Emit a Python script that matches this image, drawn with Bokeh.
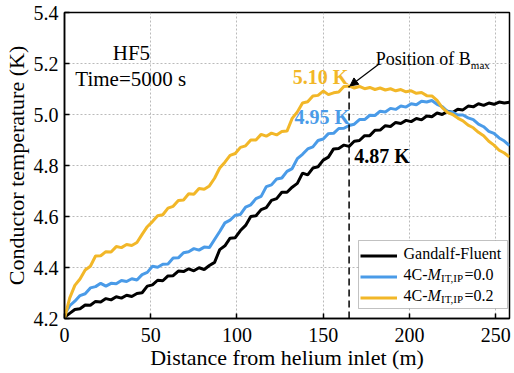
from bokeh.plotting import figure
from bokeh.models import (Range1d, FixedTicker, Legend, LegendItem, Label, Arrow, NormalHead,
                          BoxAnnotation)
from bokeh.embed import file_html
from bokeh.resources import INLINE

# ---------------- data ----------------
distance = list(range(0, 259, 3))  # m, sampling positions along the conductor

gandalf_fluent = [
    4.205, 4.220, 4.235, 4.238, 4.253, 4.252, 4.267, 4.265, 4.278, 4.273,
    4.285, 4.280, 4.291, 4.286, 4.298, 4.301, 4.327, 4.332, 4.350, 4.348,
    4.367, 4.368, 4.386, 4.384, 4.395, 4.387, 4.399, 4.392, 4.408, 4.420,
    4.470, 4.485, 4.515, 4.517, 4.545, 4.565, 4.600, 4.603, 4.627, 4.635,
    4.663, 4.670, 4.695, 4.695, 4.715, 4.730, 4.770, 4.763, 4.790, 4.795,
    4.821, 4.833, 4.865, 4.867, 4.880, 4.875, 4.895, 4.898, 4.917, 4.917,
    4.938, 4.939, 4.956, 4.953, 4.969, 4.965, 4.977, 4.972, 4.984, 4.979,
    4.994, 4.991, 5.006, 5.000, 5.013, 5.008, 5.021, 5.018, 5.033, 5.030,
    5.042, 5.036, 5.045, 5.040, 5.049, 5.045, 5.048]

fourc_m00 = [
    4.215, 4.250, 4.268, 4.290, 4.297, 4.320, 4.325, 4.338, 4.327, 4.338,
    4.336, 4.349, 4.345, 4.356, 4.351, 4.372, 4.381, 4.405, 4.401, 4.413,
    4.414, 4.437, 4.438, 4.458, 4.462, 4.474, 4.468, 4.480, 4.478, 4.510,
    4.541, 4.575, 4.586, 4.605, 4.608, 4.637, 4.646, 4.670, 4.679, 4.717,
    4.724, 4.747, 4.751, 4.777, 4.788, 4.827, 4.844, 4.865, 4.873, 4.898,
    4.904, 4.925, 4.926, 4.945, 4.946, 4.957, 4.962, 4.980, 4.980, 4.997,
    4.996, 5.013, 5.010, 5.024, 5.020, 5.033, 5.029, 5.042, 5.038, 5.052,
    5.049, 5.055, 5.040, 5.031, 5.012, 5.009, 4.998, 4.998, 4.987, 4.980,
    4.962, 4.952, 4.934, 4.926, 4.908, 4.896, 4.878]

fourc_m02 = [
    4.200, 4.280, 4.330, 4.355, 4.390, 4.405, 4.445, 4.446, 4.462, 4.461,
    4.482, 4.478, 4.490, 4.486, 4.498, 4.530, 4.560, 4.580, 4.603, 4.607,
    4.633, 4.640, 4.663, 4.665, 4.689, 4.687, 4.710, 4.707, 4.720, 4.750,
    4.790, 4.813, 4.840, 4.847, 4.871, 4.877, 4.900, 4.900, 4.922, 4.915,
    4.927, 4.920, 4.933, 4.935, 4.985, 5.010, 5.045, 5.050, 5.073, 5.075,
    5.092, 5.078, 5.085, 5.088, 5.110, 5.112, 5.104, 5.110, 5.101, 5.106,
    5.098, 5.104, 5.096, 5.101, 5.093, 5.098, 5.089, 5.093, 5.083, 5.086,
    5.074, 5.073, 5.055, 5.027, 5.008, 5.000, 4.986, 4.975, 4.958, 4.948,
    4.930, 4.917, 4.895, 4.880, 4.860, 4.849, 4.833]

series_names = ["Gandalf-Fluent", "4C-", "4C-"]
series_params = [None, "0.0", "0.2"]

x_ticks = [0, 50, 100, 150, 200, 250]
y_ticks = [4.2, 4.4, 4.6, 4.8, 5.0, 5.2, 5.4]
y_tick_labels = ["4.2", "4.4", "4.6", "4.8", "5.0", "5.2", "5.4"]

bmax_position = 165          # m
bmax_peak = 5.112            # top of the marker line (4C, M=0.2 curve)
temp_gandalf_bmax = 4.87
temp_m00_bmax = 4.95
temp_m02_bmax = 5.10

BLACK = "#000000"
BLUE = "#4A9BE8"
YELLOW = "#F2B728"
FONT = "Times"

X0, X1, Y0, Y1 = 0, 258, 4.2, 5.4
FRAME_W, FRAME_H = 448, 306   # plot area in px

# ---------------- figure ----------------
p = figure(width=514, height=373, x_range=Range1d(X0, X1), y_range=Range1d(Y0, Y1),
           output_backend="svg", toolbar_location=None,
           min_border_left=61, min_border_right=5, min_border_top=12, min_border_bottom=55)
p.background_fill_color = "white"
p.border_fill_color = "white"
p.outline_line_color = "black"
p.outline_line_width = 1.5

for ax in (p.xaxis[0], p.yaxis[0]):
    ax.axis_line_width = 1.5
    ax.axis_line_color = "black"
    ax.major_tick_in = 5
    ax.major_tick_out = 0
    ax.major_tick_line_width = 1.5
    ax.minor_tick_line_color = None
    ax.major_label_text_font = FONT
    ax.major_label_text_font_size = "20px"
    ax.major_label_text_color = "black"
    ax.axis_label_text_font = FONT
    ax.axis_label_text_font_size = "22px"
    ax.axis_label_text_font_style = "normal"
    ax.axis_label_text_color = "black"

p.xaxis.major_label_standoff = 9
p.xaxis.axis_label_standoff = 0
p.yaxis.major_label_standoff = 6
p.yaxis.axis_label_standoff = 2

p.xaxis.ticker = FixedTicker(ticks=x_ticks)
p.yaxis.ticker = FixedTicker(ticks=y_ticks)
p.yaxis.major_label_overrides = {t: l for t, l in zip(y_ticks, y_tick_labels)}
p.xaxis.axis_label = "Distance from helium inlet (m)"
p.yaxis.axis_label = "Conductor temperature (K)"

for g in (p.xgrid[0], p.ygrid[0]):
    g.grid_line_color = "#a8a8a8"
    g.grid_line_dash = "2 2"
    g.grid_line_width = 0.8
p.xgrid.ticker = FixedTicker(ticks=x_ticks)
p.ygrid.ticker = FixedTicker(ticks=y_ticks)

# ---------------- legend box (white, hides the grid) ----------------
leg_left, leg_bottom, leg_w, leg_h = 296, 10, 150, 68   # px inside the plot area
px_x = (X1 - X0) / FRAME_W
px_y = (Y1 - Y0) / FRAME_H
p.add_layout(BoxAnnotation(left=X0 + leg_left * px_x, right=X0 + (leg_left + leg_w) * px_x,
                           bottom=Y0 + leg_bottom * px_y, top=Y0 + (leg_bottom + leg_h) * px_y,
                           fill_color="white", fill_alpha=1, line_color="#333333",
                           line_width=1, level="underlay"))

# ---------------- curves ----------------
r_g = p.line(distance, gandalf_fluent, line_color=BLACK, line_width=3)
r_b = p.line(distance, fourc_m00, line_color=BLUE, line_width=3)
r_y = p.line(distance, fourc_m02, line_color=YELLOW, line_width=3)

# ---------------- legend ----------------
pad, glyph_w, standoff, item_h = 3, 37, 3, 21
legend = Legend(items=[LegendItem(label=" ", renderers=[r]) for r in (r_g, r_b, r_y)],
                location=(leg_left, leg_bottom), padding=pad, spacing=0, margin=0,
                glyph_width=glyph_w, glyph_height=item_h, label_height=item_h,
                label_width=leg_w - 2 * pad - glyph_w - standoff, label_standoff=standoff,
                label_text_font=FONT, label_text_font_size="16px",
                border_line_color=None, background_fill_alpha=0)
p.add_layout(legend)

text_x0 = leg_left + pad + glyph_w + standoff
for idx, (name, val) in enumerate(zip(series_names, series_params)):
    cy = leg_bottom + 2 * pad + 3 * item_h - pad - item_h * idx - item_h / 2
    p.add_layout(Label(x=X0, y=Y0, x_offset=text_x0, y_offset=cy, text=name,
                       text_font=FONT, text_font_size="16px",
                       text_baseline="middle", text_color="black", level="overlay"))
    if val is None:
        continue
    p.add_layout(Label(x=X0, y=Y0, x_offset=text_x0 + 24, y_offset=cy, text="M",
                       text_font=FONT, text_font_size="16px", text_font_style="italic",
                       text_baseline="middle", text_color="black", level="overlay"))
    p.add_layout(Label(x=X0, y=Y0, x_offset=text_x0 + 37.5, y_offset=cy - 4, text="IT,IP",
                       text_font=FONT, text_font_size="11px",
                       text_baseline="middle", text_color="black", level="overlay"))
    p.add_layout(Label(x=X0, y=Y0, x_offset=text_x0 + 61, y_offset=cy, text="=" + val,
                       text_font=FONT, text_font_size="16px",
                       text_baseline="middle", text_color="black", level="overlay"))

# position of Bmax
p.segment(x0=[bmax_position], y0=[Y0], x1=[bmax_position], y1=[bmax_peak],
          line_color="black", line_width=1.5, line_dash="7 4")
p.add_layout(Arrow(end=NormalHead(size=8, fill_color="black", line_color="black"),
                   x_start=182, y_start=5.196, x_end=bmax_position + 0.5, y_end=bmax_peak,
                   line_color="black", line_width=1.2))
p.add_layout(Label(x=180.5, y=5.218, text="Position of B", text_font=FONT,
                   text_font_size="18px", text_baseline="middle", text_color="black"))
p.add_layout(Label(x=180.5, y=5.218, x_offset=95, y_offset=-6, text="max", text_font=FONT,
                   text_font_size="11px", text_baseline="middle", text_color="black"))

# value annotations
p.add_layout(Label(x=164.5, y=5.147, text=f"{temp_m02_bmax:.2f} K", text_font=FONT,
                   text_font_size="20px", text_font_style="bold", text_align="right",
                   text_baseline="middle", text_color=YELLOW))
p.add_layout(Label(x=165.5, y=4.992, text=f"{temp_m00_bmax:.2f} K", text_font=FONT,
                   text_font_size="20px", text_font_style="bold", text_align="right",
                   text_baseline="middle", text_color=BLUE))
p.add_layout(Label(x=168, y=4.839, text=f"{temp_gandalf_bmax:.2f} K", text_font=FONT,
                   text_font_size="20px", text_font_style="bold", text_align="left",
                   text_baseline="middle", text_color="black"))

# case annotations
p.add_layout(Label(x=38.8, y=5.241, text="HF5", text_font=FONT, text_font_size="21px",
                   text_align="center", text_baseline="middle", text_color="black"))
p.add_layout(Label(x=6.3, y=5.139, text="Time=5000 s", text_font=FONT, text_font_size="21px",
                   text_align="left", text_baseline="middle", text_color="black"))

open("out.html", "w").write(file_html(p, INLINE))
